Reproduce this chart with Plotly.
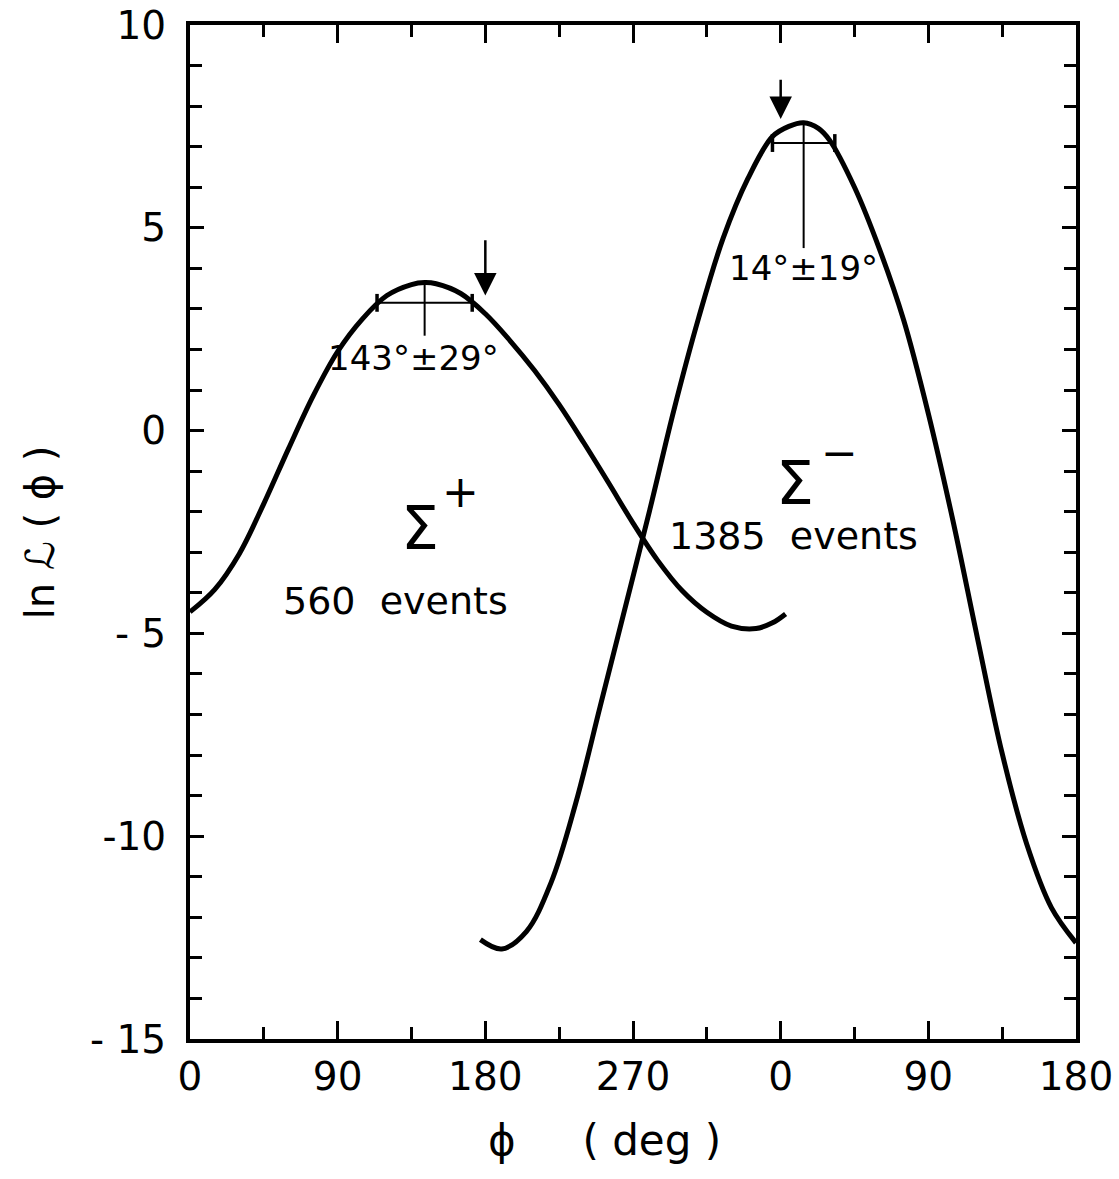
import plotly.graph_objects as go

# ---- data (phi in degrees on a continuous 0..540 scale; second panel 0 => 360) ----
sigp_phi = [0, 15, 30, 45, 60, 75, 90, 105, 120, 135, 143, 150, 165, 180, 195, 210,
            225, 240, 255, 270, 285, 300, 315, 330, 345, 355, 363]
sigp_lnL = [-4.47, -3.92, -3.04, -1.8, -0.45, 0.85, 1.95, 2.75, 3.33, 3.6, 3.65, 3.62,
            3.38, 2.88, 2.22, 1.48, 0.64, -0.3, -1.28, -2.28, -3.2, -3.95, -4.48,
            -4.82, -4.88, -4.74, -4.52]

sigm_phi = [177, 190, 205, 220, 235, 250, 265, 280, 295, 310, 325, 340, 355, 365, 374,
            383, 390, 405, 420, 435, 450, 465, 480, 495, 510, 525, 540]
sigm_lnL = [-12.55, -12.78, -12.35, -11.15, -9.2, -6.8, -4.4, -1.99, 0.52, 2.78, 4.75,
            6.21, 7.25, 7.5, 7.59, 7.45, 7.15, 6.0, 4.5, 2.72, 0.42, -2.22, -5.13,
            -7.96, -10.2, -11.76, -12.63]

# fit results: centre, error, bar level, peak, bottom of marker line
sigp_center, sigp_err, sigp_level, sigp_peak, sigp_low = 143, 29, 3.15, 3.65, 2.34
sigm_center, sigm_err, sigm_level, sigm_peak, sigm_low = 374, 19, 7.09, 7.58, 4.5
# arrows: x, y_top, y_tip
sigp_arrow = (180, 4.73, 3.33)
sigm_arrow = (360, 8.69, 7.68)

x_tickvals = [0, 90, 180, 270, 360, 450, 540]
x_ticktext = ["0", "90", "180", "270", "0", "90", "180"]
y_tickvals = [10, 5, 0, -5, -10, -15]
y_ticktext = ["10", "5", "0", "- 5", "-10", "- 15"]

FONT = "DejaVu Sans"
BLACK = "#000000"

fig = go.Figure()
fig.add_trace(go.Scatter(x=sigp_phi, y=sigp_lnL, mode="lines",
                         line=dict(color=BLACK, width=5, shape="spline", smoothing=1.0),
                         showlegend=False, hoverinfo="skip"))
fig.add_trace(go.Scatter(x=sigm_phi, y=sigm_lnL, mode="lines",
                         line=dict(color=BLACK, width=5, shape="spline", smoothing=1.0),
                         showlegend=False, hoverinfo="skip"))

for c, e, lev, pk, low in [(sigp_center, sigp_err, sigp_level, sigp_peak, sigp_low),
                           (sigm_center, sigm_err, sigm_level, sigm_peak, sigm_low)]:
    fig.add_trace(go.Scatter(x=[c - e, c + e], y=[lev, lev], mode="lines",
                             line=dict(color=BLACK, width=2), showlegend=False, hoverinfo="skip"))
    fig.add_trace(go.Scatter(x=[c, c], y=[pk, low], mode="lines",
                             line=dict(color=BLACK, width=2), showlegend=False, hoverinfo="skip"))
    for xe in (c - e, c + e):
        fig.add_trace(go.Scatter(x=[xe, xe], y=[lev - 0.22, lev + 0.22], mode="lines",
                                 line=dict(color=BLACK, width=3.5), showlegend=False,
                                 hoverinfo="skip"))

annotations = []
for ax_x, ytop, ytip in (sigp_arrow, sigm_arrow):
    annotations.append(dict(x=ax_x, y=ytip, ax=ax_x, ay=ytop, xref="x", yref="y",
                            axref="x", ayref="y", showarrow=True, arrowhead=2,
                            arrowsize=1.8, arrowwidth=2.5, arrowcolor=BLACK, text=""))

def txt(x, y, s, size, **kw):
    d = dict(x=x, y=y, xref="x", yref="y", text=s, showarrow=False,
             font=dict(family=FONT, size=size, color=BLACK))
    d.update(kw)
    annotations.append(d)

txt(sigp_center - 7, 1.8, "143°±29°", 34)
txt(sigm_center, 4.0, "14°±19°", 34)
txt(140, -2.4, "Σ", 60)
txt(165, -1.5, "+", 44)
txt(125, -4.2, "560  events", 38)
txt(369, -1.3, "Σ", 60)
txt(396, -0.55, "−", 44)
txt(368, -2.6, "1385  events", 38)

# axis titles
annotations.append(dict(x=-0.169, y=0.5, xref="paper", yref="paper", text="ln ℒ ( ϕ )",
                        textangle=-90, showarrow=False, xanchor="center", yanchor="middle",
                        font=dict(family=FONT, size=40, color=BLACK)))
annotations.append(dict(x=0.468, y=-0.1, xref="paper", yref="paper", text="ϕ     ( deg )",
                        showarrow=False, xanchor="center", yanchor="middle",
                        font=dict(family=FONT, size=42, color=BLACK)))

fig.update_layout(
    width=1119, height=1179,
    margin=dict(l=190, r=43, t=25, b=140),
    paper_bgcolor="white", plot_bgcolor="white",
    font=dict(family=FONT, size=38, color=BLACK),
    annotations=annotations,
    showlegend=False,
)
fig.update_xaxes(range=[0, 540], tickvals=x_tickvals, ticktext=x_ticktext,
                 ticks="inside", ticklen=18, tickwidth=3, tickcolor=BLACK,
                 minor=dict(dtick=45, tick0=0, ticks="inside", ticklen=12, tickwidth=3,
                            tickcolor=BLACK, showgrid=False),
                 showline=True, linewidth=4, linecolor=BLACK, mirror="ticks",
                 showgrid=False, zeroline=False, ticklabelstandoff=0,
                 ticklabeloverflow="allow", automargin=False,
                 tickfont=dict(family=FONT, size=39, color=BLACK))
fig.update_yaxes(range=[-15, 10], tickvals=y_tickvals, ticktext=y_ticktext,
                 ticks="inside", ticklen=14, tickwidth=3, tickcolor=BLACK,
                 minor=dict(dtick=1, tick0=0, ticks="inside", ticklen=12, tickwidth=3,
                            tickcolor=BLACK, showgrid=False),
                 showline=True, linewidth=4, linecolor=BLACK, mirror="ticks",
                 showgrid=False, zeroline=False, ticklabelstandoff=12,
                 ticklabeloverflow="allow", automargin=False,
                 tickfont=dict(family=FONT, size=39, color=BLACK))

fig.write_html("out.html")
